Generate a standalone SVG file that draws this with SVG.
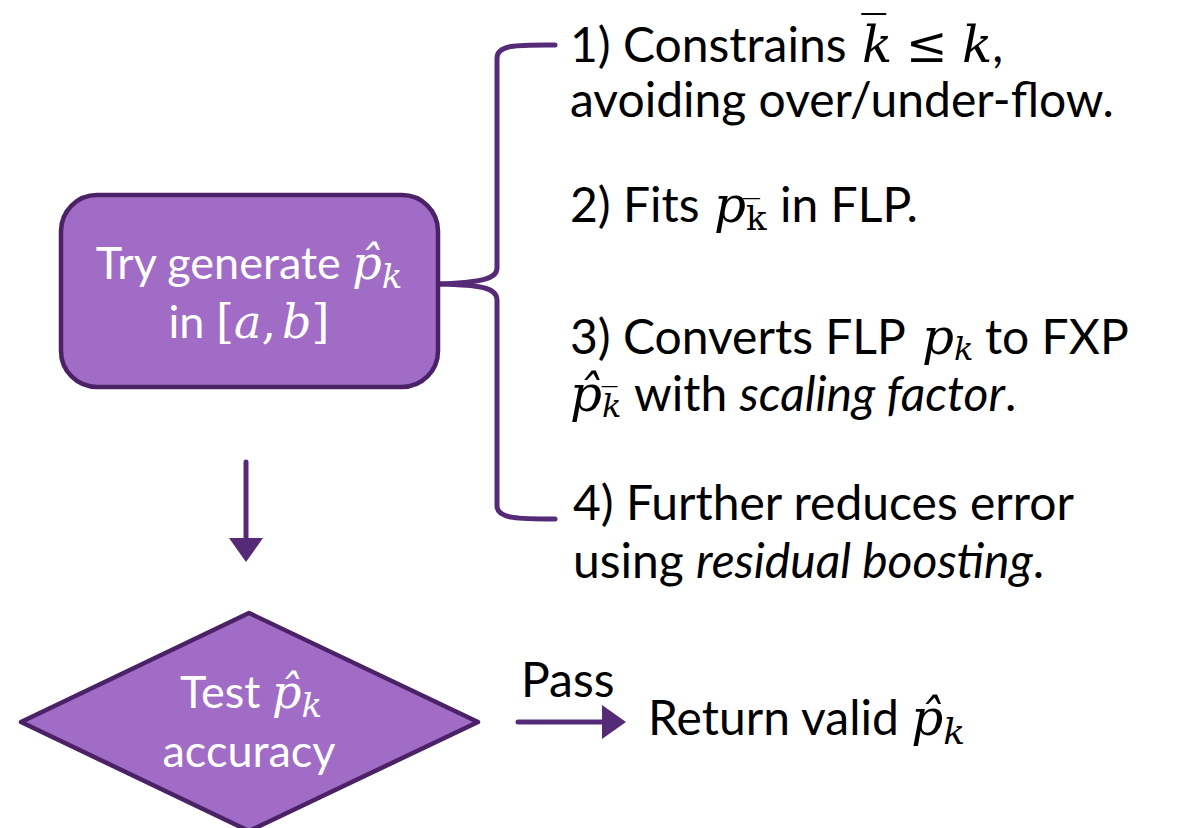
<svg xmlns="http://www.w3.org/2000/svg" width="1186" height="828" viewBox="0 0 1186 828">
<style>
.node{fill:#A06CC6;stroke:#4B2266;stroke-width:4.5;stroke-linejoin:round}
.wt{font-family:Lato,"Open Sans",sans-serif;fill:#FFFFFF;font-size:45px}
.bt{font-family:Lato,"Open Sans",sans-serif;fill:#000000;font-size:48px}
.m{font-family:"DejaVu Serif","Liberation Serif",serif;font-style:italic}
.mu{font-family:"DejaVu Serif","Liberation Serif",serif;font-style:normal}
.it{font-style:italic}
.conn{stroke:#552B78;stroke-width:5;fill:none;stroke-linecap:round}
</style>
<defs>
<marker id="ah" markerUnits="userSpaceOnUse" markerWidth="26" markerHeight="34" refX="2" refY="17" orient="auto">
<path d="M0,0 L24,17 L0,34 Z" fill="#552B78"/>
</marker>
</defs>
<g id="connectors">
<path class="conn" d="M555,45 C520,45 497,44 497,58 L497,268 C497,279 482,282 440,284"/>
<path class="conn" d="M440,284 C482,285 497,288 497,300 L497,506 C497,519 520,519 555,519"/>
<path class="conn" d="M246,462 L246,540" marker-end="url(#ah)"/>
<path class="conn" d="M518,722 L604,722" marker-end="url(#ah)"/>
<text class="bt" x="521" y="697" font-size="32">Pass</text>
</g>
<g id="node-generate">
<rect class="node" x="61" y="195" width="377" height="192" rx="36"/>
<text class="wt" x="249" y="279" text-anchor="middle">Try generate <tspan class="m" font-size="46">p̂</tspan><tspan class="m" dy="9" font-size="34">k</tspan></text>
<text class="wt" x="249" y="338" text-anchor="middle">in <tspan class="mu" font-size="46">[</tspan><tspan class="m" font-size="46">a</tspan><tspan class="mu" font-size="46">,</tspan><tspan class="m" font-size="46" dx="6">b</tspan><tspan class="mu" font-size="46">]</tspan></text>
</g>
<g id="node-test">
<polygon class="node" points="249,613 478,722 249,831 21,722"/>
<text class="wt" x="251" y="708" text-anchor="middle" font-size="44">Test <tspan class="m" font-size="46">p̂</tspan><tspan class="m" dy="9" font-size="34">k</tspan></text>
<text class="wt" x="249" y="767" text-anchor="middle" font-size="44">accuracy</text>
</g>
<g id="node-return">
<text class="bt" x="648" y="735">Return valid <tspan class="m" font-size="50">p̂</tspan><tspan class="m" dy="9" font-size="36">k</tspan></text>
</g>
<g id="steps">
<text class="bt" x="570" y="62">1) Constrains <tspan class="m" font-size="50" x="862">k̅</tspan><tspan class="mu" font-size="50" x="906">≤</tspan><tspan class="m" font-size="50" x="962">k</tspan>,</text>
<text class="bt" x="570" y="117">avoiding over/under-flow.</text>
<text class="bt" x="570" y="222">2) Fits <tspan class="m" font-size="50" x="714">p</tspan><tspan class="mu" dy="8" font-size="34">k̅</tspan><tspan dy="-8" x="780">in FLP.</tspan></text>
<text class="bt" x="570" y="354">3) Converts FLP <tspan class="m" font-size="50" x="922">p</tspan><tspan class="m" dy="6" font-size="32">k</tspan><tspan dy="-6" x="985">to FXP</tspan></text>
<text class="bt" x="570" y="411"><tspan class="m" font-size="50">p̂</tspan><tspan class="m" dy="6" font-size="32">k̅</tspan><tspan dy="-6" x="634">with </tspan><tspan class="it">scaling factor</tspan>.</text>
<text class="bt" x="573" y="520">4) Further reduces error</text>
<text class="bt" x="573" y="578">using <tspan class="it">residual boosting</tspan>.</text>
</g>
</svg>
